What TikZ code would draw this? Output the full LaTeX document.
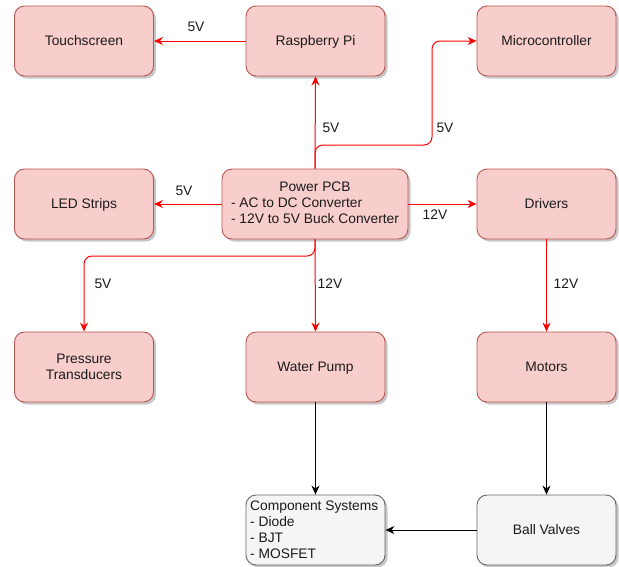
\documentclass[tikz,border=0pt]{standalone}
\usepackage{fontspec}
\setmainfont{Liberation Sans}
\usetikzlibrary{arrows.meta,shadows}
\definecolor{pinkfill}{HTML}{F8CECC}
\definecolor{pinkdraw}{HTML}{B85450}
\definecolor{greyfill}{HTML}{F5F5F5}
\definecolor{greydraw}{HTML}{666666}
\definecolor{txt}{HTML}{1A1A1A}
\definecolor{pwr}{HTML}{FF0000}
\tikzset{
  box/.style={draw=pinkdraw, fill=pinkfill, rounded corners=10pt, minimum width=139pt, minimum height=70pt,
    inner sep=2pt, line width=0.9pt, text=txt, align=center, text depth=1pt,
    drop shadow={shadow xshift=2.5pt, shadow yshift=-2.5pt, opacity=0.22, fill=black}},
  greybox/.style={box, draw=greydraw, fill=greyfill},
  pline/.style={draw=pwr, line width=1pt, rounded corners=8pt, -{Stealth[length=9pt,width=8pt,fill=pwr]}},
  bline/.style={draw=black, line width=0.9pt, -{Stealth[length=9pt,width=8pt]}},
  lbl/.style={text=txt, inner sep=0pt}
}
\begin{document}
\begin{tikzpicture}[x=1pt,y=-1pt, font=\fontsize{13.8pt}{16pt}\selectfont]
\useasboundingbox (0,0) rectangle (619,566);
\node[box] (touch) at (84,41) {Touchscreen};
\node[box] (rpi) at (315.5,41) {Raspberry Pi};
\node[box] (micro) at (546.5,41) {Microcontroller};
\node[box] (led) at (84,204) {LED Strips};
\node[box, minimum width=186pt, text depth={}] (pcb) at (315,204) {\begin{tabular}{@{}l@{}}\multicolumn{1}{@{}c@{}}{Power PCB}\\- AC to DC Converter\\- 12V to 5V Buck Converter\end{tabular}};
\node[box] (drv) at (546.5,204) {Drivers};
\node[box] (press) at (84,367) {Pressure\\Transducers};
\node[box] (pump) at (315.5,367) {Water Pump};
\node[box] (mot) at (546.5,367) {Motors};
\node[greybox] (comp) at (315.5,530) {};
\node[lbl, anchor=north west, align=left] (comptxt) at (250,501) {Component Systems\\- Diode\\- BJT\\- MOSFET};
\node[greybox] (ball) at (546.5,530) {Ball Valves};

\coordinate (m1) at (315,145);
\coordinate (m2) at (432,145);
\coordinate (m3) at (432,41);
\coordinate (p1) at (315,256);
\coordinate (p2) at (84,256);

\draw[pline] (pcb.north) -- (rpi.south);
\draw[pline] (pcb.north) -- (m1) -- (m2) -- (m3) -- (micro.west);
\draw[pline] (pcb.west) -- (led.east);
\draw[pline] (pcb.east) -- (drv.west);
\draw[pline] (pcb.south) -- (p1) -- (p2) -- (press.north);
\draw[pline] (pcb.south) -- (pump.north);
\draw[pline] (drv.south) -- (mot.north);
\draw[bline] (pump.south) -- (comp.north);
\draw[bline] (mot.south) -- (ball.north);
\draw[bline] (ball.west) -- (comp.east);
\draw[draw=red, line width=1pt, {Stealth[length=9pt,width=8pt,fill=red]}-] (touch.east) -- (rpi.west);

\node[lbl] (l1) at (196,27) {5V};
\node[lbl] (l2) at (331,128) {5V};
\node[lbl] (l3) at (445,128) {5V};
\node[lbl] (l4) at (184,191) {5V};
\node[lbl] (l5) at (435,215) {12V};
\node[lbl] (l6) at (103,284) {5V};
\node[lbl] (l7) at (330,284) {12V};
\node[lbl] (l8) at (566,284) {12V};
\end{tikzpicture}
\end{document}
